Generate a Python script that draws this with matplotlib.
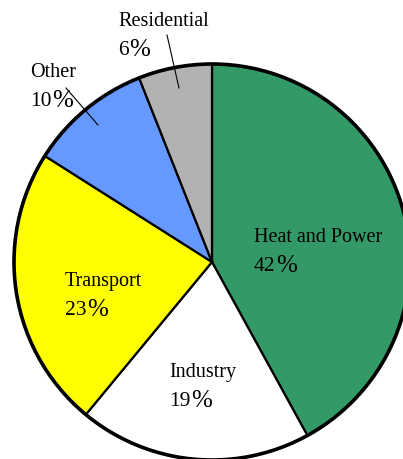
import matplotlib.pyplot as plt
from matplotlib.patches import Circle

W, H = 403, 459

sectors = ['Heat and Power', 'Industry', 'Transport', 'Other', 'Residential']
shares = [42, 19, 23, 10, 6]
colors = ['#339966', '#ffffff', '#ffff00', '#6699ff', '#b2b2b2']

# label anchor (left x, baseline of first line) in pixels from top-left
label_pos = [(254, 242), (169, 377), (65, 286), (30, 77), (118, 26)]
# leader lines for the small slices (pixels)
leaders = {'Other': ((66, 88), (98, 125)),
           'Residential': ((167, 35), (179, 88))}

plt.rcParams['font.family'] = ['Liberation Serif', 'DejaVu Serif']

fig = plt.figure(figsize=(W / 100, H / 100), dpi=100)
ax = fig.add_axes([0, 0, 1, 1])

cx, cy, r = 212, 262, 198
ax.pie(shares, colors=colors, startangle=90, counterclock=False,
       center=(cx, H - cy), radius=r,
       wedgeprops=dict(edgecolor='black', linewidth=1.6))
ax.add_patch(Circle((cx, H - cy), r, fill=False, edgecolor='black', linewidth=2.6))

ax.set_xlim(0, W)
ax.set_ylim(0, H)
ax.set_aspect('auto')
ax.axis('off')

renderer = fig.canvas.get_renderer()
for name, val, (x, y) in zip(sectors, shares, label_pos):
    ax.text(x, H - y, name, fontsize=14.5, ha='left', va='baseline')
    num = ax.text(x, H - y - 29, str(val), fontsize=15.5, ha='left', va='baseline')
    bb = num.get_window_extent(renderer)
    ax.text(bb.x1 + 0.5, H - y - 30, '%', fontsize=18, ha='left', va='baseline')

for name, ((x0, y0), (x1, y1)) in leaders.items():
    ax.plot([x0, x1], [H - y0, H - y1], color='black', linewidth=0.8)

fig.savefig('out.png', dpi=100)
